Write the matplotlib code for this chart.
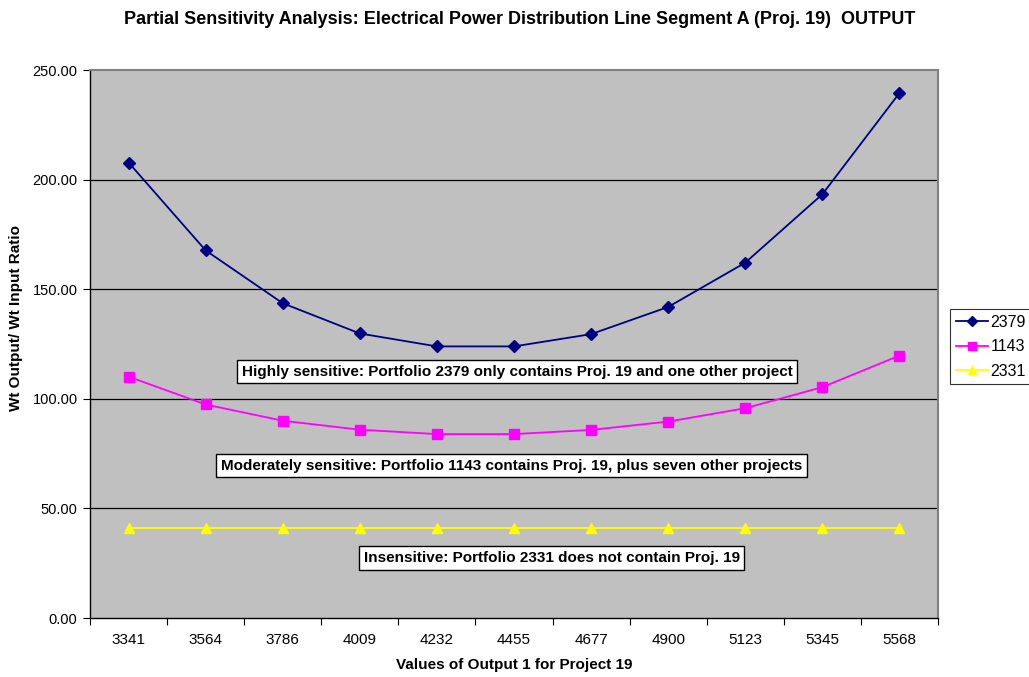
import matplotlib
matplotlib.use("Agg")
import matplotlib.pyplot as plt
import numpy as np

plt.rcParams['font.family'] = ['Liberation Sans', 'DejaVu Sans']

categories = ["3341", "3564", "3786", "4009", "4232", "4455", "4677", "4900", "5123", "5345", "5568"]
s2379 = [207.8, 167.7, 143.6, 129.8, 123.9, 123.9, 129.5, 141.9, 162.1, 193.3, 239.5]
s1143 = [110.1, 97.4, 90.0, 85.9, 83.9, 83.9, 85.8, 89.6, 95.7, 105.3, 119.7]
s2331 = [41.1, 41.1, 41.1, 41.1, 41.1, 41.1, 41.1, 41.1, 41.1, 41.1, 41.1]
yticks = [0, 50, 100, 150, 200, 250]

W, H = 1029, 677
fig = plt.figure(figsize=(W/100, H/100), dpi=100)
ax = fig.add_axes([90/W, 1-618/H, (938-90)/W, (618-70)/H])
ax.set_facecolor('#C0C0C0')

x = np.arange(len(categories))
ax.plot(x, s2379, color='#000080', marker='D', markersize=6, lw=1.3, label='2379', zorder=3)
ax.plot(x, s1143, color='#FF00FF', marker='s', markersize=7, lw=1.3, label='1143', zorder=3)
ax.plot(x, s2331, color='#FFFF00', marker='^', markersize=7, lw=1.3, label='2331', zorder=3)

ax.set_xlim(-0.5, len(categories) - 0.5)
ax.set_ylim(0, 250)
ax.set_yticks(yticks)
ax.set_yticklabels([f"{v:.2f}" for v in yticks], fontsize=10.5)
for v in yticks[1:-1]:
    ax.axhline(v, color='black', lw=0.9, zorder=1)

ax.set_xticks(np.arange(-0.5, len(categories), 1.0))
ax.set_xticklabels([])
ax.set_xticks(x, minor=True)
ax.set_xticklabels(categories, minor=True, fontsize=11)
ax.tick_params(axis='x', which='major', direction='out', length=5, color='black')
ax.tick_params(axis='x', which='minor', length=0, pad=11)
ax.tick_params(axis='y', direction='out', length=5, color='black', pad=4)

for side in ['top', 'right']:
    ax.spines[side].set_color('#808080')
    ax.spines[side].set_linewidth(1.5)
for side in ['left', 'bottom']:
    ax.spines[side].set_color('black')
    ax.spines[side].set_linewidth(1.0)

fig.text(514/W, 1-665/H, "Values of Output 1 for Project 19", ha='center', va='center',
         fontsize=11, fontweight='bold')
fig.text(16/W, 1-318/H, "Wt Output/ Wt Input Ratio", ha='center', va='center',
         rotation=90, fontsize=11, fontweight='bold')

fig.text(520/W, 1-20/H, "Partial Sensitivity Analysis: Electrical Power Distribution Line Segment A (Proj. 19)  OUTPUT",
         ha='center', va='center', fontsize=13, fontweight='bold')

box = dict(boxstyle='square,pad=0.3', facecolor='white', edgecolor='black', lw=1.0)
ax.text(5.04, 112.3, "Highly sensitive: Portfolio 2379 only contains Proj. 19 and one other project",
        ha='center', va='center', fontsize=11, fontweight='bold', bbox=box, zorder=4)
ax.text(4.97, 69.4, "Moderately sensitive: Portfolio 1143 contains Proj. 19, plus seven other projects",
        ha='center', va='center', fontsize=11, fontweight='bold', bbox=box, zorder=4)
ax.text(5.49, 27.4, "Insensitive: Portfolio 2331 does not contain Proj. 19",
        ha='center', va='center', fontsize=11, fontweight='bold', bbox=box, zorder=4)

leg = fig.legend(loc='upper left', bbox_to_anchor=(950/W, 1-309/H), fontsize=11.5,
                 frameon=True, fancybox=False, edgecolor='black', handlelength=2.0,
                 borderpad=0.35, labelspacing=0.6, handletextpad=0.2, borderaxespad=0,
                 markerscale=0.85)
leg.get_frame().set_linewidth(0.8)

fig.savefig("out.png", dpi=100)
